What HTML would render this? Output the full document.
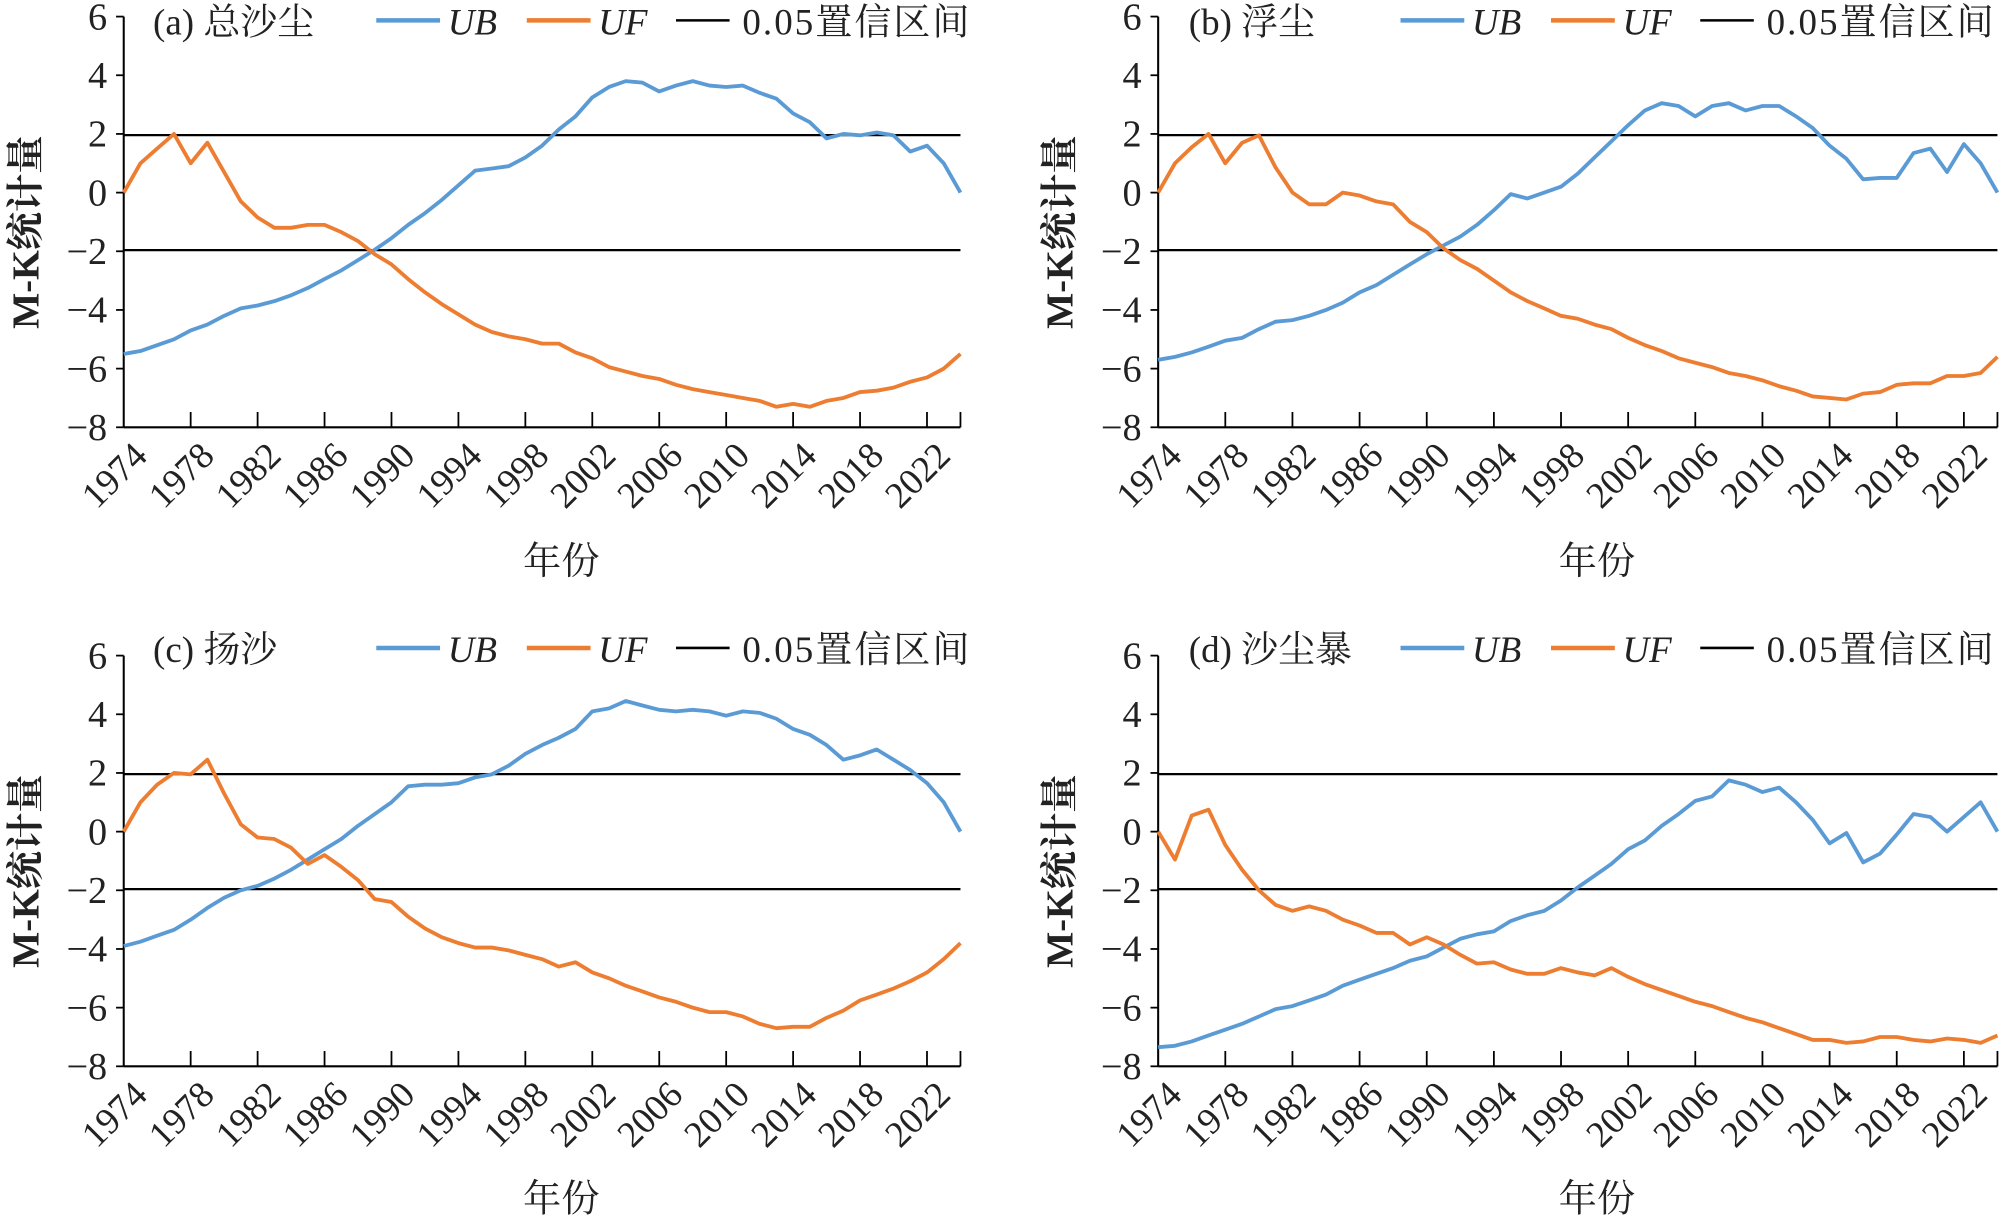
<!DOCTYPE html>
<html><head><meta charset="utf-8">
<style>
html,body{margin:0;padding:0;background:#fff;}
svg{display:block;}
text{font-family:"Liberation Serif","Noto Serif CJK SC","Noto Sans CJK SC",serif;fill:#222;}
.t{font-size:30px;}
.lg{font-size:29px;}
.xl{font-size:29px;}
.ax{font-size:30px;}
.yl{font-size:30px;font-weight:bold;}
</style></head>
<body>
<svg id="s" width="2000" height="1219" viewBox="0 0 1568 955.7" preserveAspectRatio="none" xmlns="http://www.w3.org/2000/svg">
<g id="g"></g>
<g class="t" text-anchor="end">
<text x="84" y="23">6</text><text x="84" y="69">4</text><text x="84" y="115">2</text><text x="84" y="161">0</text><text x="84" y="207">−2</text><text x="84" y="253">−4</text><text x="84" y="299">−6</text><text x="84" y="345">−8</text>
<text x="895" y="23">6</text><text x="895" y="69">4</text><text x="895" y="115">2</text><text x="895" y="161">0</text><text x="895" y="207">−2</text><text x="895" y="253">−4</text><text x="895" y="299">−6</text><text x="895" y="345">−8</text>
<text x="84" y="524">6</text><text x="84" y="570">4</text><text x="84" y="616">2</text><text x="84" y="662">0</text><text x="84" y="708">−2</text><text x="84" y="754">−4</text><text x="84" y="800">−6</text><text x="84" y="846">−8</text>
<text x="895" y="524">6</text><text x="895" y="570">4</text><text x="895" y="616">2</text><text x="895" y="662">0</text><text x="895" y="708">−2</text><text x="895" y="754">−4</text><text x="895" y="800">−6</text><text x="895" y="846">−8</text>
</g>
<g id="xl" class="xl" text-anchor="end"></g>
<text class="ax" x="440" y="450" text-anchor="middle">年份</text>
<text class="ax" x="1252" y="450" text-anchor="middle">年份</text>
<text class="ax" x="440" y="950" text-anchor="middle">年份</text>
<text class="ax" x="1252" y="950" text-anchor="middle">年份</text>
<text class="yl" transform="translate(30,182) rotate(-90)" text-anchor="middle">M-K统计量</text>
<text class="yl" transform="translate(841,182) rotate(-90)" text-anchor="middle">M-K统计量</text>
<text class="yl" transform="translate(30,683) rotate(-90)" text-anchor="middle">M-K统计量</text>
<text class="yl" transform="translate(841,683) rotate(-90)" text-anchor="middle">M-K统计量</text>
<g class="lg">
<text x="120" y="27">(a) 总沙尘</text>
<line x1="295" y1="16" x2="345" y2="16" stroke="#5b9bd5" stroke-width="3.5"/><text x="351" y="27" font-style="italic">UB</text>
<line x1="413" y1="16" x2="463" y2="16" stroke="#ed7d31" stroke-width="3.5"/><text x="469" y="27" font-style="italic">UF</text>
<line x1="530" y1="16" x2="572" y2="16" stroke="#000" stroke-width="2"/><text x="582" y="27" textLength="178">0.05置信区间</text>

<text x="932" y="27">(b) 浮尘</text>
<line x1="1098" y1="16" x2="1148" y2="16" stroke="#5b9bd5" stroke-width="3.5"/><text x="1154" y="27" font-style="italic">UB</text>
<line x1="1216" y1="16" x2="1266" y2="16" stroke="#ed7d31" stroke-width="3.5"/><text x="1272" y="27" font-style="italic">UF</text>
<line x1="1333" y1="16" x2="1375" y2="16" stroke="#000" stroke-width="2"/><text x="1385" y="27" textLength="178">0.05置信区间</text>

<text x="120" y="519">(c) 扬沙</text>
<line x1="295" y1="508" x2="345" y2="508" stroke="#5b9bd5" stroke-width="3.5"/><text x="351" y="519" font-style="italic">UB</text>
<line x1="413" y1="508" x2="463" y2="508" stroke="#ed7d31" stroke-width="3.5"/><text x="469" y="519" font-style="italic">UF</text>
<line x1="530" y1="508" x2="572" y2="508" stroke="#000" stroke-width="2"/><text x="582" y="519" textLength="178">0.05置信区间</text>

<text x="932" y="519">(d) 沙尘暴</text>
<line x1="1098" y1="508" x2="1148" y2="508" stroke="#5b9bd5" stroke-width="3.5"/><text x="1154" y="519" font-style="italic">UB</text>
<line x1="1216" y1="508" x2="1266" y2="508" stroke="#ed7d31" stroke-width="3.5"/><text x="1272" y="519" font-style="italic">UF</text>
<line x1="1333" y1="508" x2="1375" y2="508" stroke="#000" stroke-width="2"/><text x="1385" y="519" textLength="178">0.05置信区间</text>
</g>
</svg>
<script>
var P=[
{x0:97,x1:753,yt:13,
ub:[-5.5,-5.4,-5.2,-5.0,-4.7,-4.5,-4.2,-3.95,-3.85,-3.7,-3.5,-3.25,-2.95,-2.65,-2.3,-1.95,-1.55,-1.1,-0.7,-0.25,0.25,0.75,0.82,0.9,1.2,1.6,2.15,2.6,3.25,3.6,3.8,3.75,3.45,3.65,3.8,3.65,3.6,3.65,3.4,3.2,2.7,2.4,1.85,2.0,1.95,2.05,1.95,1.4,1.6,1.0,0],
uf:[0,1.0,1.5,2.0,1.0,1.7,0.7,-0.3,-0.85,-1.2,-1.2,-1.1,-1.1,-1.35,-1.65,-2.1,-2.45,-2.95,-3.4,-3.8,-4.15,-4.5,-4.75,-4.9,-5.0,-5.15,-5.15,-5.45,-5.65,-5.95,-6.1,-6.25,-6.35,-6.55,-6.7,-6.8,-6.9,-7.0,-7.1,-7.3,-7.2,-7.3,-7.1,-7.0,-6.8,-6.75,-6.65,-6.45,-6.3,-6.0,-5.5]},
{x0:908,x1:1566,yt:13,
ub:[-5.7,-5.6,-5.45,-5.25,-5.05,-4.95,-4.65,-4.4,-4.35,-4.2,-4.0,-3.75,-3.4,-3.15,-2.8,-2.45,-2.1,-1.8,-1.5,-1.1,-0.6,-0.05,-0.2,0.0,0.2,0.65,1.2,1.75,2.3,2.8,3.05,2.95,2.6,2.95,3.05,2.8,2.95,2.95,2.6,2.2,1.6,1.15,0.45,0.5,0.5,1.35,1.5,0.7,1.65,1.0,0.0],
uf:[0,1.0,1.55,2.0,1.0,1.7,1.95,0.85,0.0,-0.4,-0.4,0.0,-0.1,-0.3,-0.4,-1.0,-1.35,-1.9,-2.3,-2.6,-3.0,-3.4,-3.7,-3.95,-4.2,-4.3,-4.5,-4.65,-4.95,-5.2,-5.4,-5.65,-5.8,-5.95,-6.15,-6.25,-6.4,-6.6,-6.75,-6.95,-7.0,-7.05,-6.85,-6.8,-6.55,-6.5,-6.5,-6.25,-6.25,-6.15,-5.6]},
{x0:97,x1:753,yt:514,
ub:[-3.9,-3.75,-3.55,-3.35,-3.0,-2.6,-2.25,-2.0,-1.85,-1.6,-1.3,-0.95,-0.6,-0.25,0.2,0.6,1.0,1.55,1.6,1.6,1.65,1.85,1.95,2.25,2.65,2.95,3.2,3.5,4.1,4.2,4.45,4.3,4.15,4.1,4.15,4.1,3.95,4.1,4.05,3.85,3.5,3.3,2.95,2.45,2.6,2.8,2.45,2.1,1.65,1.0,0],
uf:[0,1.0,1.6,2.0,1.95,2.45,1.3,0.25,-0.2,-0.25,-0.55,-1.1,-0.8,-1.2,-1.65,-2.3,-2.4,-2.9,-3.3,-3.6,-3.8,-3.95,-3.95,-4.05,-4.2,-4.35,-4.6,-4.45,-4.8,-5.0,-5.25,-5.45,-5.65,-5.8,-6.0,-6.15,-6.15,-6.3,-6.55,-6.7,-6.65,-6.65,-6.35,-6.1,-5.75,-5.55,-5.35,-5.1,-4.8,-4.35,-3.8]},
{x0:908,x1:1566,yt:514,
ub:[-7.35,-7.3,-7.15,-6.95,-6.75,-6.55,-6.3,-6.05,-5.95,-5.75,-5.55,-5.25,-5.05,-4.85,-4.65,-4.4,-4.25,-3.95,-3.65,-3.5,-3.4,-3.05,-2.85,-2.7,-2.35,-1.9,-1.5,-1.1,-0.6,-0.3,0.2,0.6,1.05,1.2,1.75,1.6,1.35,1.5,1.0,0.4,-0.4,-0.05,-1.05,-0.75,-0.1,0.6,0.5,0.0,0.5,1.0,0.0],
uf:[0,-0.95,0.55,0.75,-0.45,-1.3,-2.0,-2.5,-2.7,-2.55,-2.7,-3.0,-3.2,-3.45,-3.45,-3.85,-3.6,-3.85,-4.2,-4.5,-4.45,-4.7,-4.85,-4.85,-4.65,-4.8,-4.9,-4.65,-4.95,-5.2,-5.4,-5.6,-5.8,-5.95,-6.15,-6.35,-6.5,-6.7,-6.9,-7.1,-7.1,-7.2,-7.15,-7.0,-7.0,-7.1,-7.15,-7.05,-7.1,-7.2,-6.95]}
];
var NS="http://www.w3.org/2000/svg",g=document.getElementById("g"),xl=document.getElementById("xl");
function el(n,a,p){var e=document.createElementNS(NS,n);for(var k in a)e.setAttribute(k,a[k]);(p||g).appendChild(e);return e;}
P.forEach(function(p){
 var dx=(p.x1-p.x0)/50,u=23,Y=function(v){return p.yt+(6-v)*u;},yb=Y(-8);
 el("line",{x1:p.x0,y1:Y(1.96),x2:p.x1,y2:Y(1.96),stroke:"#000","stroke-width":1.8});
 el("line",{x1:p.x0,y1:Y(-1.96),x2:p.x1,y2:Y(-1.96),stroke:"#000","stroke-width":1.8});
 el("line",{x1:p.x0,y1:p.yt,x2:p.x0,y2:yb,stroke:"#000","stroke-width":1.6});
 el("line",{x1:p.x0,y1:yb,x2:p.x1,y2:yb,stroke:"#000","stroke-width":1.6});
 for(var v=6;v>=-8;v-=2)el("line",{x1:p.x0-6,y1:Y(v),x2:p.x0,y2:Y(v),stroke:"#000","stroke-width":1.4});
 for(var i=4;i<=48;i+=4)el("line",{x1:p.x0+i*dx,y1:yb,x2:p.x0+i*dx,y2:yb-12,stroke:"#000","stroke-width":1.4});
 el("line",{x1:p.x1,y1:yb,x2:p.x1,y2:yb-12,stroke:"#000","stroke-width":1.4});
 ["ub","uf"].forEach(function(s){
  var d=p[s].map(function(v,i){return (i?"L":"M")+(p.x0+i*dx).toFixed(1)+","+Y(v).toFixed(1);}).join("");
  el("path",{d:d,fill:"none",stroke:s=="ub"?"#5b9bd5":"#ed7d31","stroke-width":3,"stroke-linejoin":"round"});
 });
 for(var i=0;i<=48;i+=4){var x=p.x0+i*dx+10,y=yb+14;
  var t=el("text",{x:x,y:y+14,transform:"rotate(-45 "+x+" "+y+")"},xl);t.textContent=1974+i;}
});
</script>
</body></html>
